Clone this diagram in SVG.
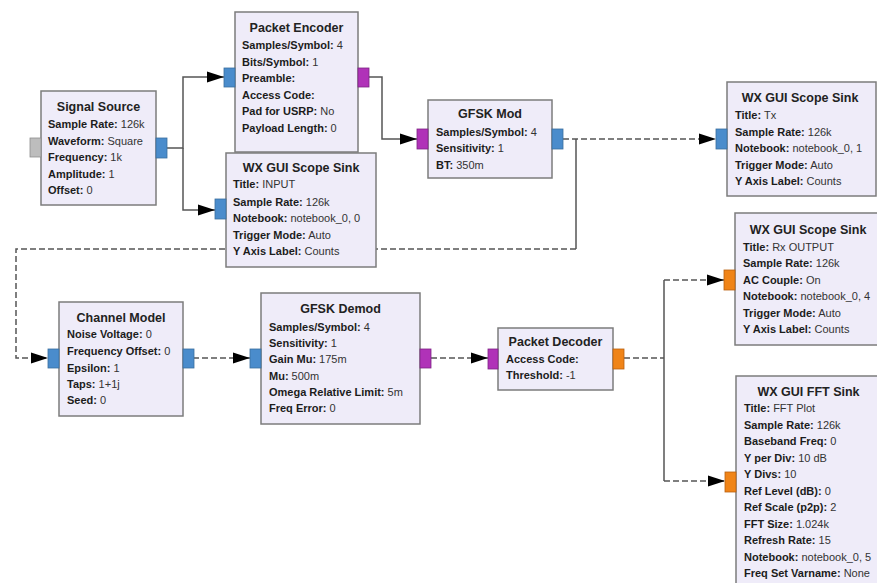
<svg xmlns="http://www.w3.org/2000/svg" width="877" height="583" viewBox="0 0 877 583">
<style>
.box{fill:#efecf9;stroke:#7c7c7c;stroke-width:1.5}
.t{font-family:"Liberation Sans",Arial,sans-serif;font-size:12.5px;font-weight:bold;fill:#222;text-anchor:middle}
.r{font-family:"Liberation Sans",Arial,sans-serif;font-size:11px;fill:#333}
.k{font-weight:bold;fill:#1c1c1c}
.pb{fill:#4a8ccc;stroke:#3a6e9e;stroke-width:0.8}
.pm{fill:#b032b8;stroke:#7e2384;stroke-width:0.8}
.po{fill:#f08418;stroke:#b86010;stroke-width:0.8}
.pg{fill:#bdbdbd;stroke:#8e8e8e;stroke-width:0.8}
.c{fill:none;stroke:#555;stroke-width:1.5}
.d{stroke-dasharray:6,3}
</style>
<defs>
<marker id="ah" markerUnits="userSpaceOnUse" markerWidth="17" markerHeight="12" refX="17" refY="6" orient="auto">
<path d="M0,0.5 L17,6 L0,11.5 z" fill="#000"/>
</marker>
</defs>
<rect width="877" height="583" fill="#fff"/>
<g id="connectors">
<path class="c" d="M167,148 H183 V77 H224" marker-end="url(#ah)"/>
<path class="c" d="M183,148 V210 H215" marker-end="url(#ah)"/>
<path class="c" d="M369,77 H382 V139 H417" marker-end="url(#ah)"/>
<path class="c d" d="M563,139 H716" marker-end="url(#ah)"/>
<path class="c" d="M576,139 V249"/>
<path class="c d" d="M576,249 H16 V358 H48" marker-end="url(#ah)"/>
<path class="c d" d="M193,358 H250" marker-end="url(#ah)"/>
<path class="c d" d="M431,358 H488" marker-end="url(#ah)"/>
<path class="c d" d="M624,358 H664"/>
<path class="c" d="M664,280 V481"/>
<path class="c d" d="M664,280 H724" marker-end="url(#ah)"/>
<path class="c d" d="M664,481 H725" marker-end="url(#ah)"/>
</g>
<g id="signal_source">
<rect class="box" x="41" y="91" width="115" height="114"/>
<rect class="pg" x="30" y="138" width="11" height="19"/>
<rect class="pb" x="156" y="138" width="11" height="20"/>
<text class="t" x="98.5" y="111">Signal Source</text>
<text class="r" x="48" y="128"><tspan class="k">Sample Rate:</tspan> 126k</text>
<text class="r" x="48" y="145"><tspan class="k">Waveform:</tspan> Square</text>
<text class="r" x="48" y="161"><tspan class="k">Frequency:</tspan> 1k</text>
<text class="r" x="48" y="178"><tspan class="k">Amplitude:</tspan> 1</text>
<text class="r" x="48" y="194"><tspan class="k">Offset:</tspan> 0</text>
</g>
<g id="packet_encoder">
<rect class="box" x="235" y="12" width="123" height="140"/>
<rect class="pb" x="224" y="68" width="11" height="19"/>
<rect class="pm" x="358" y="68" width="11" height="19"/>
<text class="t" x="296.5" y="32">Packet Encoder</text>
<text class="r" x="242" y="49"><tspan class="k">Samples/Symbol:</tspan> 4</text>
<text class="r" x="242" y="66"><tspan class="k">Bits/Symbol:</tspan> 1</text>
<text class="r" x="242" y="82"><tspan class="k">Preamble:</tspan></text>
<text class="r" x="242" y="99"><tspan class="k">Access Code:</tspan></text>
<text class="r" x="242" y="115"><tspan class="k">Pad for USRP:</tspan> No</text>
<text class="r" x="242" y="132"><tspan class="k">Payload Length:</tspan> 0</text>
</g>
<g id="scope_input">
<rect class="box" x="226" y="153" width="150" height="114"/>
<rect class="pb" x="215" y="199" width="11" height="20"/>
<text class="t" x="301" y="172">WX GUI Scope Sink</text>
<text class="r" x="233" y="188"><tspan class="k">Title:</tspan> INPUT</text>
<text class="r" x="233" y="206"><tspan class="k">Sample Rate:</tspan> 126k</text>
<text class="r" x="233" y="222"><tspan class="k">Notebook:</tspan> notebook_0, 0</text>
<text class="r" x="233" y="239"><tspan class="k">Trigger Mode:</tspan> Auto</text>
<text class="r" x="233" y="255"><tspan class="k">Y Axis Label:</tspan> Counts</text>
</g>
<g id="gfsk_mod">
<rect class="box" x="428" y="100" width="124" height="78"/>
<rect class="pm" x="417" y="129" width="11" height="20"/>
<rect class="pb" x="552" y="129" width="11" height="20"/>
<text class="t" x="490" y="118">GFSK Mod</text>
<text class="r" x="436" y="136"><tspan class="k">Samples/Symbol:</tspan> 4</text>
<text class="r" x="436" y="152"><tspan class="k">Sensitivity:</tspan> 1</text>
<text class="r" x="436" y="169"><tspan class="k">BT:</tspan> 350m</text>
</g>
<g id="scope_tx">
<rect class="box" x="727" y="82" width="149" height="114"/>
<rect class="pb" x="716" y="129" width="11" height="20"/>
<text class="t" x="800" y="102">WX GUI Scope Sink</text>
<text class="r" x="735" y="119"><tspan class="k">Title:</tspan> Tx</text>
<text class="r" x="735" y="136"><tspan class="k">Sample Rate:</tspan> 126k</text>
<text class="r" x="735" y="152"><tspan class="k">Notebook:</tspan> notebook_0, 1</text>
<text class="r" x="735" y="169"><tspan class="k">Trigger Mode:</tspan> Auto</text>
<text class="r" x="735" y="185"><tspan class="k">Y Axis Label:</tspan> Counts</text>
</g>
<g id="channel_model">
<rect class="box" x="59" y="302" width="124" height="114"/>
<rect class="pb" x="48" y="349" width="11" height="19"/>
<rect class="pb" x="183" y="349" width="11" height="19"/>
<text class="t" x="121" y="322">Channel Model</text>
<text class="r" x="67" y="338"><tspan class="k">Noise Voltage:</tspan> 0</text>
<text class="r" x="67" y="355"><tspan class="k">Frequency Offset:</tspan> 0</text>
<text class="r" x="67" y="372"><tspan class="k">Epsilon:</tspan> 1</text>
<text class="r" x="67" y="388"><tspan class="k">Taps:</tspan> 1+1j</text>
<text class="r" x="67" y="404"><tspan class="k">Seed:</tspan> 0</text>
</g>
<g id="gfsk_demod">
<rect class="box" x="261" y="293" width="159" height="131"/>
<rect class="pb" x="250" y="349" width="11" height="19"/>
<rect class="pm" x="420" y="349" width="11" height="19"/>
<text class="t" x="340.5" y="313">GFSK Demod</text>
<text class="r" x="269" y="331"><tspan class="k">Samples/Symbol:</tspan> 4</text>
<text class="r" x="269" y="347"><tspan class="k">Sensitivity:</tspan> 1</text>
<text class="r" x="269" y="363"><tspan class="k">Gain Mu:</tspan> 175m</text>
<text class="r" x="269" y="380"><tspan class="k">Mu:</tspan> 500m</text>
<text class="r" x="269" y="396"><tspan class="k">Omega Relative Limit:</tspan> 5m</text>
<text class="r" x="269" y="412"><tspan class="k">Freq Error:</tspan> 0</text>
</g>
<g id="packet_decoder">
<rect class="box" x="498" y="328" width="115" height="62"/>
<rect class="pm" x="488" y="349" width="10" height="20"/>
<rect class="po" x="613" y="349" width="11" height="20"/>
<text class="t" x="555.5" y="346">Packet Decoder</text>
<text class="r" x="506" y="363"><tspan class="k">Access Code:</tspan></text>
<text class="r" x="506" y="379"><tspan class="k">Threshold:</tspan> -1</text>
</g>
<g id="scope_rx">
<rect class="box" x="735" y="213" width="146" height="132"/>
<rect class="po" x="724" y="270" width="11" height="20"/>
<text class="t" x="808" y="234">WX GUI Scope Sink</text>
<text class="r" x="743" y="251"><tspan class="k">Title:</tspan> Rx OUTPUT</text>
<text class="r" x="743" y="267"><tspan class="k">Sample Rate:</tspan> 126k</text>
<text class="r" x="743" y="284"><tspan class="k">AC Couple:</tspan> On</text>
<text class="r" x="743" y="300"><tspan class="k">Notebook:</tspan> notebook_0, 4</text>
<text class="r" x="743" y="317"><tspan class="k">Trigger Mode:</tspan> Auto</text>
<text class="r" x="743" y="333"><tspan class="k">Y Axis Label:</tspan> Counts</text>
</g>
<g id="fft_sink">
<rect class="box" x="736" y="376" width="146" height="215"/>
<rect class="po" x="725" y="472" width="11" height="20"/>
<text class="t" x="808.5" y="396">WX GUI FFT Sink</text>
<text class="r" x="744" y="412"><tspan class="k">Title:</tspan> FFT Plot</text>
<text class="r" x="744" y="429"><tspan class="k">Sample Rate:</tspan> 126k</text>
<text class="r" x="744" y="445"><tspan class="k">Baseband Freq:</tspan> 0</text>
<text class="r" x="744" y="462"><tspan class="k">Y per Div:</tspan> 10 dB</text>
<text class="r" x="744" y="478"><tspan class="k">Y Divs:</tspan> 10</text>
<text class="r" x="744" y="495"><tspan class="k">Ref Level (dB):</tspan> 0</text>
<text class="r" x="744" y="511"><tspan class="k">Ref Scale (p2p):</tspan> 2</text>
<text class="r" x="744" y="528"><tspan class="k">FFT Size:</tspan> 1.024k</text>
<text class="r" x="744" y="544"><tspan class="k">Refresh Rate:</tspan> 15</text>
<text class="r" x="744" y="561"><tspan class="k">Notebook:</tspan> notebook_0, 5</text>
<text class="r" x="744" y="577"><tspan class="k">Freq Set Varname:</tspan> None</text>
</g>
</svg>
